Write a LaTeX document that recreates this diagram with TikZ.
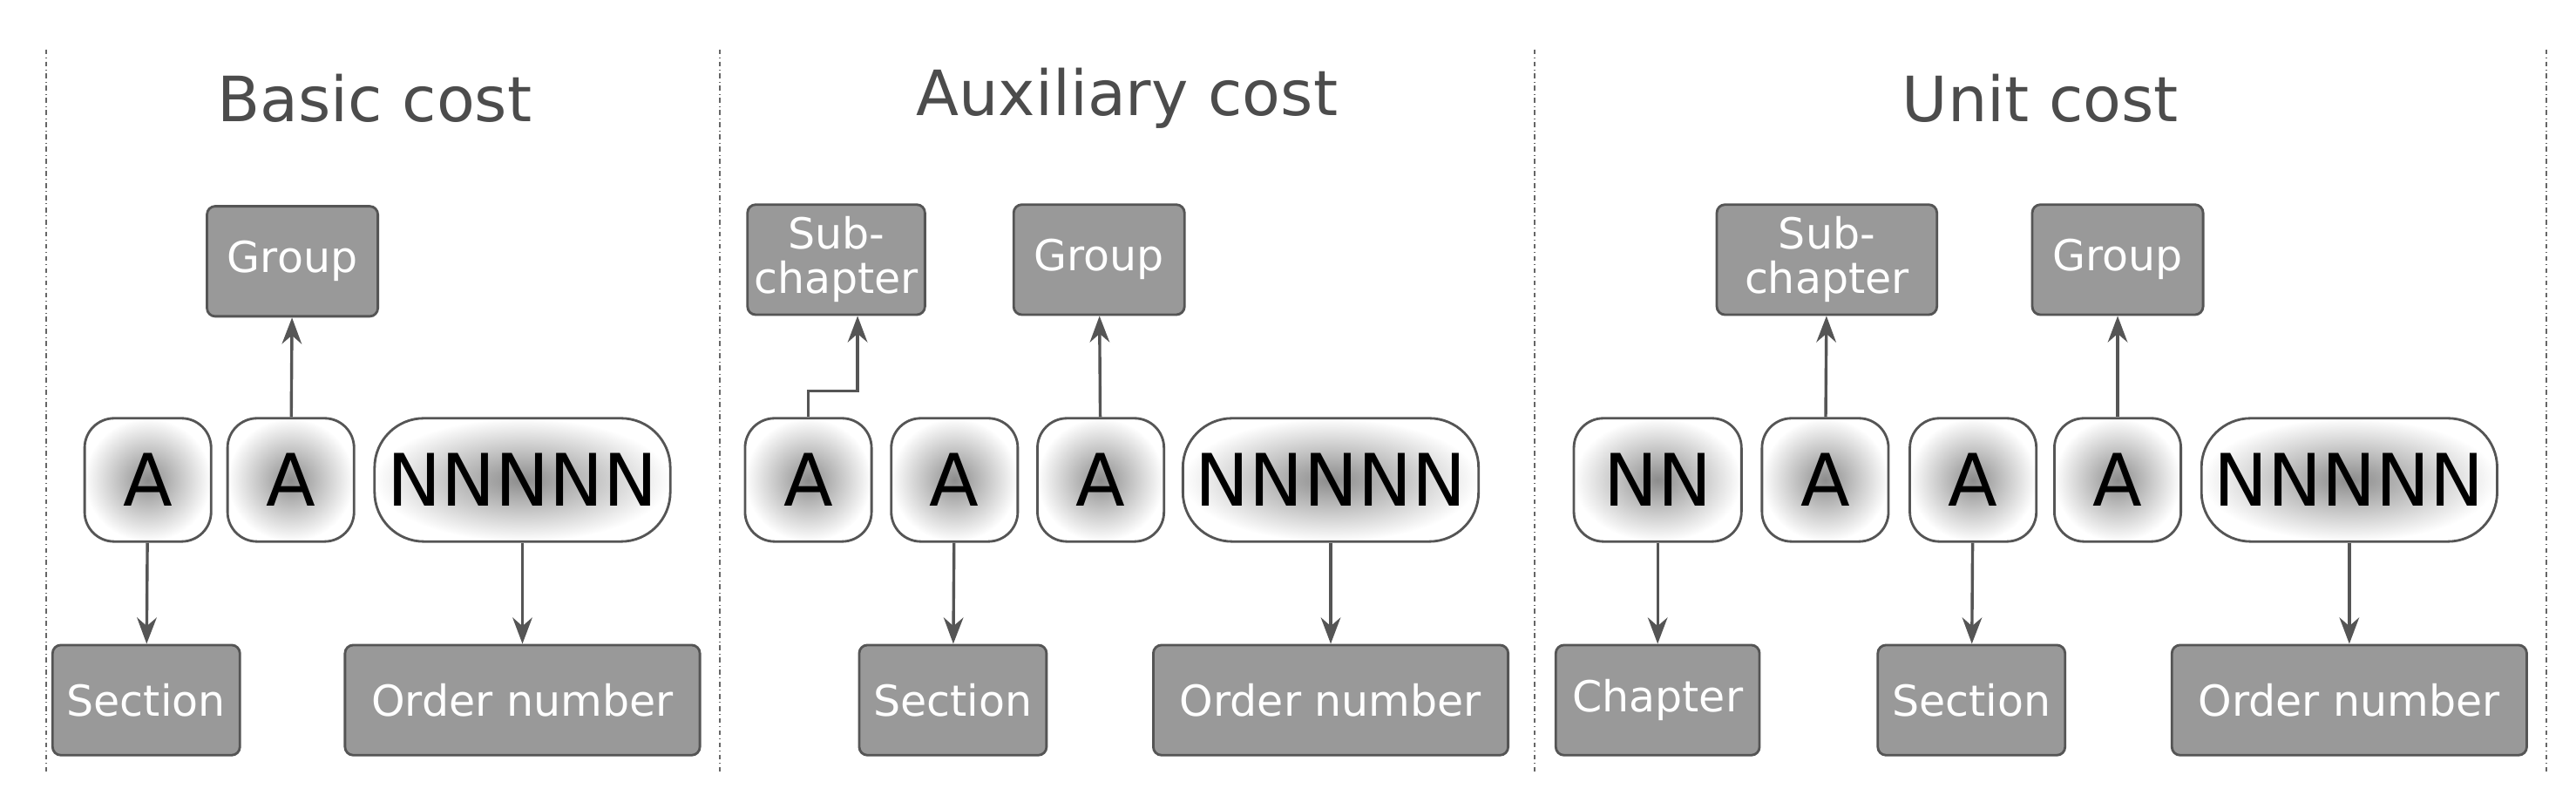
\documentclass[tikz,border=0pt]{standalone}
\usepackage{fontspec}
\setmainfont{DejaVu Sans}
\usetikzlibrary{arrows.meta}
\definecolor{boxgray}{HTML}{999999}
\definecolor{linegray}{HTML}{555555}
\begin{document}
\begin{tikzpicture}[x=1pt,y=-1pt,
  code/.style={rectangle, rounded corners=18pt, inner color=black!45, outer color=white,
    draw=linegray, line width=1.5pt, minimum height=75pt, minimum width=77pt,
    font=\fontsize{44}{44}\selectfont},
  wide/.style={code, rounded corners=30pt, minimum width=180pt},
  field/.style={rectangle, rounded corners=5pt, fill=boxgray, draw=linegray, line width=1.5pt,
    text=white, minimum height=67pt, align=center, font=\fontsize{26}{27}\selectfont, inner sep=3pt},
  titel/.style={text=black!70, font=\fontsize{38}{38}\selectfont},
  pil/.style={-{Stealth[length=16pt,width=12pt]}, draw=linegray, line width=1.8pt},
  skille/.style={draw=black!60, dash dot, line width=1pt}]

  \useasboundingbox (0,0) rectangle (1568,492);
  \foreach \x in {28,438,934,1550}
    \draw[skille] (\x,30) -- (\x,470);

  % basic cost
  \node[titel] (t1) at (228,60) {Basic cost};
  \node[code] (a1) at (90,292) {A};
  \node[code] (a2) at (177,292) {A};
  \node[wide] (n1) at (318,292) {NNNNN};
  \node[field, minimum width=104pt] (g1) at (178,159) {Group};
  \node[field, minimum width=114pt] (s1) at (89,426) {Section};
  \node[field, minimum width=216pt] (o1) at (318,426) {Order number};
  \draw[pil] (a1) -- (s1);
  \draw[pil] (a2) -- (g1);
  \draw[pil] (n1) -- (o1);

  % auxiliary cost
  \node[titel] (t2) at (686,60) {Auxiliary cost};
  \node[code] (b1) at (492,292) {A};
  \node[code] (b2) at (581,292) {A};
  \node[code] (b3) at (670,292) {A};
  \node[wide] (n2) at (810,292) {NNNNN};
  \node[field, minimum width=108pt] (u2) at (509,158) {Sub-\\chapter};
  \node[field, minimum width=104pt] (g2) at (669,158) {Group};
  \node[field, minimum width=114pt] (s2) at (580,426) {Section};
  \node[field, minimum width=216pt] (o2) at (810,426) {Order number};
  \draw[pil] (b1.north) -- ++(0,-16) -| ([xshift=13pt]u2.south);
  \draw[pil] (b2) -- (s2);
  \draw[pil] (b3) -- (g2);
  \draw[pil] (n2) -- (o2);

  % unit cost
  \node[titel] (t3) at (1242,60) {Unit cost};
  \node[code, minimum width=102pt] (c0) at (1009,292) {NN};
  \node[code] (c1) at (1111,292) {A};
  \node[code] (c2) at (1201,292) {A};
  \node[code] (c3) at (1289,292) {A};
  \node[wide] (n3) at (1430,292) {NNNNN};
  \node[field, minimum width=134pt] (u3) at (1112,158) {Sub-\\chapter};
  \node[field, minimum width=104pt] (g3) at (1289,158) {Group};
  \node[field, minimum width=124pt] (k3) at (1009,426) {Chapter};
  \node[field, minimum width=114pt] (s3) at (1200,426) {Section};
  \node[field, minimum width=216pt] (o3) at (1430,426) {Order number};
  \draw[pil] (c0) -- (k3);
  \draw[pil] (c1) -- (u3);
  \draw[pil] (c2) -- (s3);
  \draw[pil] (c3) -- (g3);
  \draw[pil] (n3) -- (o3);
\end{tikzpicture}
\end{document}
